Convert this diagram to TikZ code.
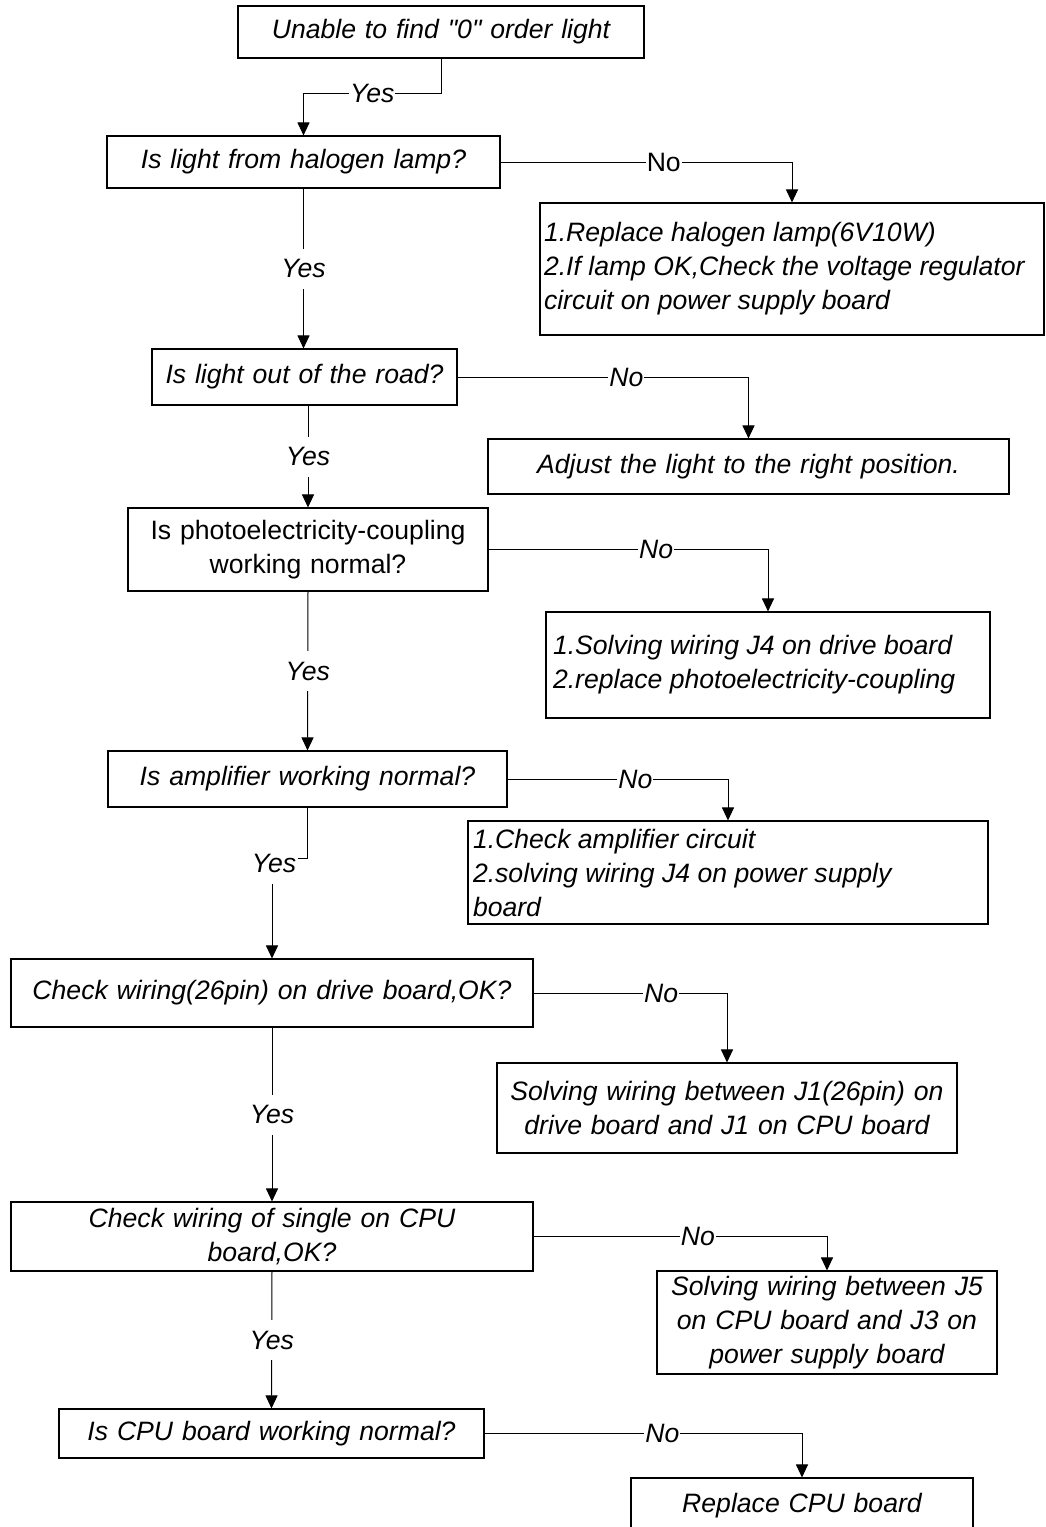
\documentclass[tikz,border=0pt]{standalone}
\usepackage{fontspec}
\setmainfont{Liberation Sans}
\font\quotefont="Liberation Sans/I" at 26.6pt
\usetikzlibrary{arrows.meta}

\begin{document}
\begin{tikzpicture}[x=1pt, y=-1pt, line width=1pt,
		box/.style={draw, shape=rectangle, line width=1.1pt, inner xsep=5pt, inner ysep=0pt,
			font=\fontsize{26.6}{34}\selectfont\itshape},
		lab/.style={fill=white, inner xsep=1pt, inner ysep=0pt, minimum height=40pt,
			font=\fontsize{26.6}{34}\selectfont\itshape},
		arr/.style={-{Triangle[width=12pt, length=13pt]}}]
		\useasboundingbox (0,0) rectangle (1045,1527);
		\node (q0) [box, text width=396pt, minimum height=52pt, align=center] at (441,32) {Unable to find {\quotefont"}0{\quotefont"} order light};
		\node (q1) [box, text width=383pt, minimum height=52pt, align=center] at (303.5,162) {Is light from halogen lamp?};
		\node (a1) [box, text width=496pt, inner xsep=4pt, minimum height=132pt, align=flush left] at (792,269) {1.Replace halogen lamp(6V10W)\\2.If lamp OK,Check the voltage regulator\\circuit on power supply board};
		\node (q2) [box, text width=295pt, minimum height=56pt, align=center] at (304.5,377) {Is light out of the road?};
		\node (a2) [box, text width=511pt, minimum height=55pt, align=center] at (748.5,466.5) {Adjust the light to the right position.};
		\node (q3) [box, text width=350pt, minimum height=83pt, align=center, font=\fontsize{26.6}{34}\selectfont] at (308,549.5) {Is photoelectricity-coupling\\working normal?};
		\node (a3) [box, text width=430pt, inner xsep=7pt, minimum height=106pt, align=flush left] at (768,665) {1.Solving wiring J4 on drive board\\2.replace photoelectricity-coupling};
		\node (q4) [box, text width=389pt, minimum height=56pt, align=center] at (307.5,779) {Is amplifier working normal?};
		\node (a4) [box, text width=510pt, minimum height=103pt, align=flush left] at (728,872.5) {1.Check amplifier circuit\\2.solving wiring J4 on power supply\\board};
		\node (q5) [box, text width=512pt, minimum height=68pt, align=center] at (272,993) {Check wiring(26pin) on drive board,OK?};
		\node (a5) [box, text width=450pt, minimum height=90pt, align=center] at (727,1108) {Solving wiring between J1(26pin) on\\drive board and J1 on CPU board};
		\node (q6) [box, text width=512pt, minimum height=69pt, align=center] at (272,1236.5) {Check wiring of single on CPU\\board,OK?};
		\node (a6) [box, text width=330pt, minimum height=103pt, align=center] at (827,1322.5) {Solving wiring between J5\\on CPU board and J3 on\\power supply board};
		\node (q7) [box, text width=415pt, minimum height=49pt, align=center] at (271.5,1433.5) {Is CPU board working normal?};
		\node (a7) [box, text width=332pt, minimum height=56pt, align=center] at (802,1506) {Replace CPU board};
		\node (y5) [lab] at (274,863) {Yes};

		\draw[arr] (q0.south) -- ++(0,35) -| node[lab, pos=0.25] {Yes} (q1.north);
		\draw[arr] (q1.east) -| node[lab, pos=0.28, font=\fontsize{26.6}{34}\selectfont] {No} (a1.north);
		\draw[arr] (q1.south) -- node[lab] {Yes} (q1.south |- q2.north);
		\draw[arr] (q2.east) -| node[lab, pos=0.29] {No} (a2.north);
		\draw[arr] (q3.north |- q2.south) -- node[lab] {Yes} (q3.north);
		\draw[arr] (q3.east) -| node[lab, pos=0.3] {No} (a3.north);
		\draw[arr] (q3.south) -- node[lab] {Yes} (q4.north);
		\draw[arr] (q4.east) -| node[lab, pos=0.29] {No} (a4.north);
		\draw      (q4.south) |- ([yshift=5pt]y5.east);
		\draw[arr] (q5.north |- y5.south) -- (q5.north);
		\draw[arr] (q5.east) -| node[lab, pos=0.33] {No} (a5.north);
		\draw[arr] (q5.south) -- node[lab] {Yes} (q6.north);
		\draw[arr] (q6.east) -| node[lab, pos=0.28] {No} (a6.north);
		\draw[arr] (q6.south) -- node[lab] {Yes} (q7.north);
		\draw[arr] (q7.east) -| node[lab, pos=0.28] {No} (a7.north);
\end{tikzpicture}
\end{document}
